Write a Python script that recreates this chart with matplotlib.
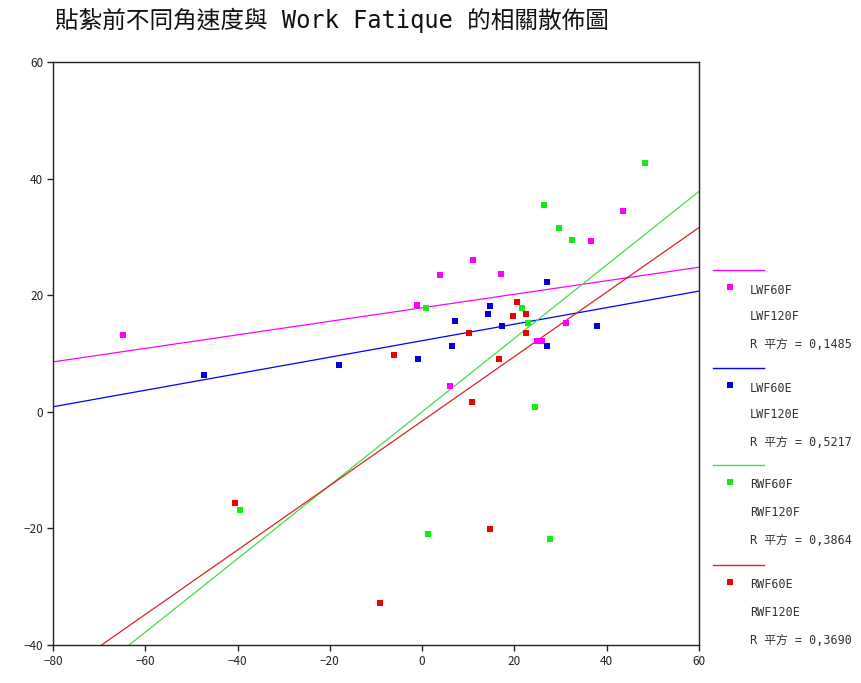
"""Scatter: angular speed vs Work Fatique before taping, with linear fits."""
import matplotlib

matplotlib.use("Agg")
import matplotlib.pyplot as plt
import numpy as np

plt.rcParams["font.family"] = ["Noto Sans CJK TC", "DejaVu Sans"]
MONO_CJK = ["DejaVu Sans Mono", "Noto Sans CJK TC"]

title = "貼紮前不同角速度與 Work Fatique 的相關散佈圖"

# LWF60F (x) vs LWF120F (y)
lwf_f_x = [-64.9, -1.2, 3.9, 11.1, 17.0, 6.0, 24.8, 25.9, 31.1, 36.6, 43.5]
lwf_f_y = [13.1, 18.3, 23.4, 26.1, 23.6, 4.4, 12.2, 12.2, 15.2, 29.3, 34.4]

# LWF60E (x) vs LWF120E (y)
lwf_e_x = [-47.3, -18.0, -0.9, 6.4, 7.1, 14.3, 14.7, 17.4, 27.1, 27.1, 37.9]
lwf_e_y = [6.3, 8.0, 9.1, 11.3, 15.5, 16.8, 18.1, 14.8, 22.2, 11.3, 14.8]

# RWF60F (x) vs RWF120F (y)
rwf_f_x = [-39.5, 0.8, 1.2, 21.6, 22.9, 24.4, 26.5, 29.6, 32.5, 48.2, 27.8]
rwf_f_y = [-16.8, 17.8, -21.0, 17.8, 15.2, 0.9, 35.4, 31.5, 29.5, 42.7, -21.9]

# RWF60E (x) vs RWF120E (y)
rwf_e_x = [-40.6, -9.1, -6.2, 10.1, 10.7, 16.7, 19.7, 20.6, 22.4, 22.4, 14.8]
rwf_e_y = [-15.6, -32.8, 9.7, 13.6, 1.7, 9.1, 16.4, 18.8, 16.8, 13.6, -20.1]

# fitted lines
fit_slope = [0.116, 0.1417, 0.630, 0.553]
fit_intercept = [17.84, 12.2, 0.0, -1.58]
r_squared = ["0,1485", "0,5217", "0,3864", "0,3690"]

labels_x = ["LWF60F", "LWF60E", "RWF60F", "RWF60E"]
labels_y = ["LWF120F", "LWF120E", "RWF120F", "RWF120E"]

point_colors = ["#ff00ff", "#0000e0", "#11ee11", "#ee0000"]
line_colors = ["#ff00ff", "#0000ff", "#44dd44", "#dd2222"]

xs = [lwf_f_x, lwf_e_x, rwf_f_x, rwf_e_x]
ys = [lwf_f_y, lwf_e_y, rwf_f_y, rwf_e_y]

W, H = 862, 683
fig = plt.figure(figsize=(W / 100, H / 100), dpi=100)
ax = fig.add_axes([53 / W, 1 - 645 / H, (699 - 53) / W, (645 - 62) / H])

line_x = np.array([-80, 60])
for i in range(4):
    ax.plot(line_x, fit_slope[i] * line_x + fit_intercept[i],
            color=line_colors[i], lw=0.9, zorder=2)
for i in range(4):
    ax.plot(xs[i], ys[i], "s", color=point_colors[i], ms=4.3, mew=0, zorder=3)

ax.set_xlim(-80, 60)
ax.set_ylim(-40, 60)
ax.set_xticks(np.arange(-80, 61, 20))
ax.set_yticks(np.arange(-40, 61, 20))
ax.tick_params(direction="out", length=4, width=1, labelsize=8.5, pad=3,
               colors="#222222")
for s in ax.spines.values():
    s.set_linewidth(1)
    s.set_color("#222222")

fig.text(55 / W, 1 - 20 / H, title, fontsize=17, va="center", ha="left",
         color="#111111", family=MONO_CJK)

# legend drawn in figure pixel space
lax = fig.add_axes([0, 0, 1, 1])
lax.set_xlim(0, W)
lax.set_ylim(H, 0)
lax.axis("off")
group_y = [270, 368, 465, 565]
for i, gy in enumerate(group_y):
    lax.plot([713, 764], [gy, gy], color=line_colors[i], lw=1)
    lax.plot([730], [gy + 17], "s", color=point_colors[i], ms=3.8, mew=0)
    kw = dict(fontsize=8.5, va="center", ha="left", color="#333333",
              family=MONO_CJK)
    lax.text(750, gy + 20, labels_x[i], **kw)
    lax.text(750, gy + 47, labels_y[i], **kw)
    lax.text(750, gy + 75, "R 平方 = " + r_squared[i], **kw)

fig.savefig("out.png", dpi=100)
plt.close(fig)
